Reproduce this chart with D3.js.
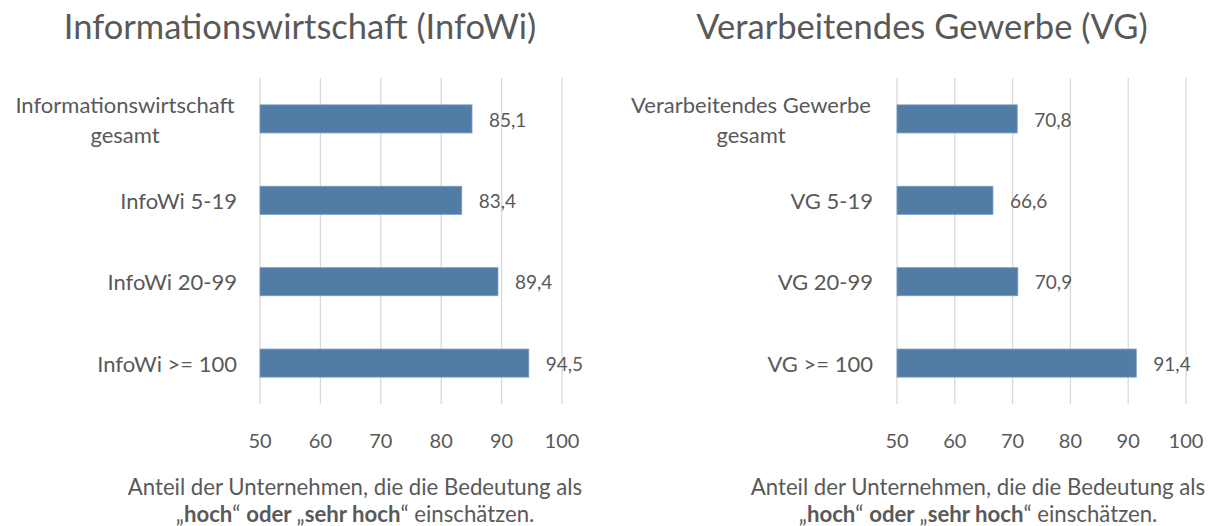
<!DOCTYPE html>
<meta charset="utf-8">
<script src="https://d3js.org/d3.v7.min.js"></script>
<style>
  body { margin: 0; background: #fff; }
  text { font-family: Lato, "Open Sans", sans-serif; fill: #595959; }
</style>
<div id="my_dataviz"></div>
<script>

  // data
  var infoCategories = ["Informationswirtschaft gesamt", "InfoWi 5-19", "InfoWi 20-99", "InfoWi >= 100"]
  var infoValues = [85.1, 83.4, 89.4, 94.5]
  var vgCategories = ["Verarbeitendes Gewerbe gesamt", "VG 5-19", "VG 20-99", "VG >= 100"]
  var vgValues = [70.8, 66.6, 70.9, 91.4]
  var xTicks = [50, 60, 70, 80, 90, 100]
  var titles = ["Informationswirtschaft (InfoWi)", "Verarbeitendes Gewerbe (VG)"]

  var svg = d3.select("#my_dataviz")
    .append("svg")
      .attr("width", 1220)
      .attr("height", 526)

  // one panel per sector
  function drawPanel(opts) {
    var g = svg.append("g")
    var data = opts.cats.map(function(c, i) { return {cat: c, val: opts.vals[i]} })

    var x = d3.scaleLinear().domain([50, 100]).range([opts.x0, opts.x1])
    var y = d3.scaleBand().domain(opts.cats).range([78, 404]).paddingInner(0.655).paddingOuter(0.33)

    // gridlines
    g.selectAll(".grid").data(xTicks).enter().append("line")
      .attr("x1", function(d) { return x(d) }).attr("x2", function(d) { return x(d) })
      .attr("y1", 78).attr("y2", 404)
      .attr("stroke", "#d9d9d9").attr("stroke-width", 1.3)

    // tick labels
    g.selectAll(".tick").data(xTicks).enter().append("text")
      .attr("x", function(d) { return x(d) }).attr("y", 441)
      .attr("text-anchor", "middle").attr("dy", "0.35em")
      .style("font-size", "20px")
      .text(function(d) { return d })

    // bars
    g.selectAll(".bar").data(data).enter().append("rect")
      .attr("x", x(50))
      .attr("y", function(d) { return y(d.cat) })
      .attr("width", function(d) { return x(d.val) - x(50) })
      .attr("height", y.bandwidth())
      .attr("fill", "#517ca5")
      .attr("stroke", "#7a9cc0").attr("stroke-width", 0.8)

    // value labels
    g.selectAll(".val").data(data).enter().append("text")
      .attr("x", function(d) { return x(d.val) + 17 })
      .attr("y", function(d) { return y(d.cat) + y.bandwidth() / 2 + 1 })
      .attr("dy", "0.35em")
      .style("font-size", "19px")
      .text(function(d) { return d3.format(".1f")(d.val).replace(".", ",") })

    // category labels (wrap "gesamt" onto a 2nd line)
    data.forEach(function(d) {
      var cy = y(d.cat) + y.bandwidth() / 2
      var t = g.append("text").style("font-size", "22px")
      if (d.cat.indexOf("gesamt") > -1) {
        var first = d.cat.replace(" gesamt", "")
        t.attr("text-anchor", "middle")
        t.append("tspan").attr("x", opts.labelMid).attr("y", cy - 14).attr("dy", "0.35em").text(first)
        t.append("tspan").attr("x", opts.labelMid).attr("y", cy + 16).attr("dy", "0.35em").text("gesamt")
      } else {
        t.attr("text-anchor", "end").attr("x", opts.labelRight).attr("y", cy + 1).attr("dy", "0.35em").text(d.cat)
      }
    })

    // title
    g.append("text")
      .attr("x", opts.titleX).attr("y", 27).attr("dy", "0.35em")
      .attr("text-anchor", "middle")
      .style("font-size", "34.5px")
      .text(opts.title)

    // footnote
    var f = g.append("text").attr("text-anchor", "middle").style("font-size", "22.2px")
    f.append("tspan").attr("x", opts.noteX).attr("y", 487).attr("dy", "0.35em")
      .text("Anteil der Unternehmen, die die Bedeutung als")
    var l2 = f.append("tspan").attr("x", opts.noteX).attr("y", 514).attr("dy", "0.35em")
    l2.append("tspan").text("„")
    l2.append("tspan").style("font-weight", "bold").text("hoch")
    l2.append("tspan").text("“ ")
    l2.append("tspan").style("font-weight", "bold").text("oder ")
    l2.append("tspan").text("„")
    l2.append("tspan").style("font-weight", "bold").text("sehr hoch")
    l2.append("tspan").text("“ einschätzen.")
  }

  drawPanel({cats: infoCategories, vals: infoValues, x0: 260, x1: 562,
             labelRight: 237, labelMid: 125, titleX: 300, noteX: 355, title: titles[0]})
  drawPanel({cats: vgCategories, vals: vgValues, x0: 897, x1: 1186,
             labelRight: 873, labelMid: 751, titleX: 922, noteX: 978, title: titles[1]})

</script>
